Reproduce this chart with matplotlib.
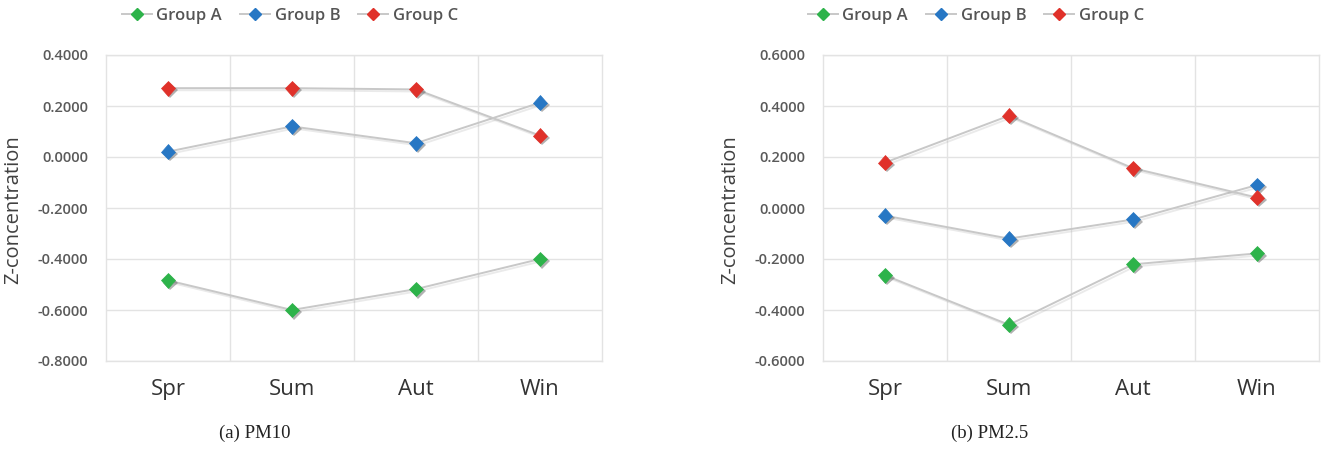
import matplotlib
matplotlib.use("Agg")
import matplotlib.pyplot as plt
import matplotlib.patheffects as pe
from matplotlib.lines import Line2D

seasons = ["Spr", "Sum", "Aut", "Win"]
groups = ["Group A", "Group B", "Group C"]
colors = ["#2db34a", "#2777c4", "#e0312a"]

pm10_a = [-0.484, -0.600, -0.518, -0.400]
pm10_b = [0.021, 0.120, 0.054, 0.213]
pm10_c = [0.270, 0.270, 0.265, 0.084]

pm25_a = [-0.264, -0.458, -0.221, -0.178]
pm25_b = [-0.030, -0.120, -0.045, 0.090]
pm25_c = [0.178, 0.362, 0.156, 0.041]

pm10_ticks = [0.4, 0.2, 0.0, -0.2, -0.4, -0.6, -0.8]
pm25_ticks = [0.6, 0.4, 0.2, 0.0, -0.2, -0.4, -0.6]

captions = ["(a) PM10", "(b) PM2.5"]
ylabel = "Z-concentration"

plt.rcParams['font.family'] = ['Open Sans', 'DejaVu Sans']

fig = plt.figure(figsize=(13.21, 4.59), dpi=100)
W, H = 1321, 459

def fx(px):
    return px / W

def fy(py):
    return 1 - py / H

panels = [
    dict(x0=106, data=[pm10_a, pm10_b, pm10_c], ticks=pm10_ticks,
         lab_x=13, leg_x=290, cap_x=255),
    dict(x0=823, data=[pm25_a, pm25_b, pm25_c], ticks=pm25_ticks,
         lab_x=730, leg_x=976, cap_x=990),
]

grid_c = "#e3e3e3"
line_c = "#c8c8c8"
line_fx = [pe.SimpleLineShadow(offset=(1.5, -1.5), shadow_color="#999999", alpha=0.2),
           pe.Normal()]
mark_fx = [pe.SimplePatchShadow(offset=(1.6, -1.6), shadow_rgbFace="#555555", alpha=0.45),
           pe.Normal()]

for i, p in enumerate(panels):
    ax = fig.add_axes([fx(p["x0"]), fy(361), fx(496), (361 - 55) / H])
    xs = list(range(len(seasons)))
    for vals, col in zip(p["data"], colors):
        ax.plot(xs, vals, color=line_c, lw=1.4, zorder=2, path_effects=line_fx)
        ax.plot(xs, vals, linestyle="none", marker="D", ms=7.5, mfc=col,
                mec=col, mew=0.5, zorder=3, path_effects=mark_fx)
    ax.set_xlim(-0.5, len(seasons) - 0.5)
    ax.set_ylim(min(p["ticks"]), max(p["ticks"]))
    ax.set_yticks(p["ticks"])
    ax.set_yticklabels([f"{t:.4f}" for t in p["ticks"]])
    ax.set_xticks(xs)
    ax.set_xticklabels(seasons)
    ax.set_xticks([0.5, 1.5, 2.5], minor=True)
    ax.grid(axis="y", which="major", color=grid_c, lw=1.0)
    ax.grid(axis="x", which="minor", color=grid_c, lw=1.0)
    ax.set_axisbelow(True)
    for s in ax.spines.values():
        s.set_color(grid_c)
        s.set_linewidth(1.0)
    ax.tick_params(axis="y", which="both", length=0, pad=13, labelsize=10.5,
                   labelcolor="#5a5a5a")
    for t in ax.get_yticklabels():
        t.set_fontweight("semibold")
    ax.tick_params(axis="x", which="both", length=0, pad=13, labelsize=16,
                   labelcolor="#333333")
    for t in ax.get_xticklabels():
        t.set_fontweight("medium")
    fig.text(fx(p["lab_x"]), fy(210), ylabel, rotation=90, ha="center",
             va="center", fontsize=14.5, color="#404040", fontweight="medium")
    handles = [Line2D([0], [0], color=line_c, lw=1.4, marker="D", ms=6,
                      mfc=c, mec=c) for c in colors]
    fig.legend(handles, groups, loc="center", bbox_to_anchor=(fx(p["leg_x"]), fy(16)),
               ncol=3, frameon=False, handlelength=1.8,
               handletextpad=0.25, columnspacing=1.1,
               prop={"weight": "semibold", "size": 12})
    fig.text(fx(p["cap_x"]), fy(433), captions[i], ha="center", va="center",
             fontsize=13.5, family="Liberation Serif", color="#222222")

for lg in fig.legends:
    for t in lg.get_texts():
        t.set_color("#555555")

fig.savefig("out.png", dpi=100, facecolor="white")
